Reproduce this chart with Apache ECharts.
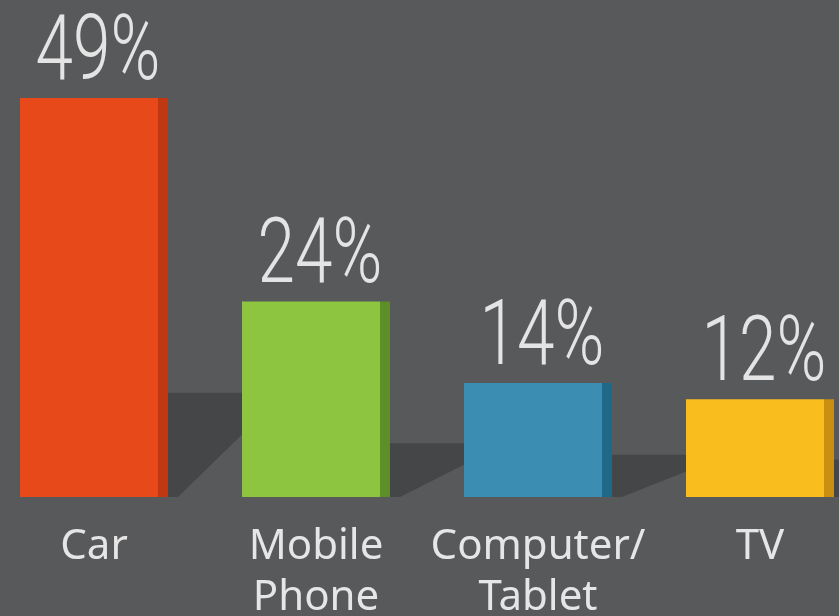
<!DOCTYPE html>
<html>
<head>
<meta charset="utf-8">
<script src="https://cdn.jsdelivr.net/npm/echarts@6/dist/echarts.min.js"></script>
<style>
  html, body { margin: 0; padding: 0; background: #58595b; }
  #chart { width: 839px; height: 616px; }
</style>
</head>
<body>
<div id="chart"></div>
<script>
// categories and shares
const categories = ['Car', 'Mobile\nPhone', 'Computer/\nTablet', 'TV'];
const shares = [49, 24, 14, 12];
// depth of the dark floor shadow behind each bar (in % units)
const shadowDepth = [12.8, 6.6, 5.2, 4.6];
const faceColors = ['#e8491a', '#8dc540', '#3b8db1', '#fabd1e'];
const edgeColors = ['#bf3812', '#5e8e27', '#1f6887', '#c98e12'];

const BAR_W = 148;

const chart = echarts.init(document.getElementById('chart'));

const option = {
  backgroundColor: '#58595b',
  animation: false,
  grid: { left: -17, right: -32, top: 98, bottom: 119, outerBoundsMode: 'none' },
  xAxis: {
    type: 'category',
    data: categories,
    axisLine: { show: false },
    axisTick: { show: false },
    axisLabel: {
      interval: 0,
      margin: 25,
      color: '#e6e6e6',
      fontFamily: 'Noto Sans',
      fontSize: 42,
      lineHeight: 51
    }
  },
  yAxis: {
    type: 'value',
    min: 0,
    max: 49,
    show: false,
    splitLine: { show: false }
  },
  series: [
    {
      // floor shadows
      type: 'custom',
      z: 1,
      data: shadowDepth.map((d, i) => [i, d]),
      renderItem: function (params, api) {
        const top = api.coord([api.value(0), api.value(1)]);
        const base = api.coord([api.value(0), 0]);
        const band = api.size([1, 0])[0];
        const xr = top[0] + BAR_W / 2;
        const gap = band - BAR_W;
        const h = base[1] - top[1];
        return {
          type: 'polygon',
          shape: {
            points: [
              [xr, top[1]],
              [xr + gap, top[1]],
              [xr + gap, top[1] + h * 0.4],
              [xr + 10, base[1]],
              [xr, base[1]]
            ]
          },
          style: { fill: '#454648' }
        };
      }
    },
    {
      type: 'bar',
      z: 2,
      barWidth: BAR_W,
      data: shares.map((v, i) => ({
        value: v,
        itemStyle: {
          color: new echarts.graphic.LinearGradient(0, 0, 1, 0, [
            { offset: 0, color: faceColors[i] },
            { offset: 0.93, color: faceColors[i] },
            { offset: 0.93, color: edgeColors[i] },
            { offset: 1, color: edgeColors[i] }
          ])
        }
      }))
    },
    {
      // percentage labels, drawn narrow to match the condensed type
      type: 'custom',
      z: 3,
      data: shares.map((v, i) => [i, v]),
      renderItem: function (params, api) {
        const p = api.coord([api.value(0), api.value(1)]);
        return {
          type: 'text',
          x: p[0] + 4,
          y: p[1] + 3,
          scaleX: 0.75,
          style: {
            text: api.value(1) + '%',
            fontFamily: 'Roboto',
            fontWeight: 300,
            fontSize: 90,
            fill: '#e4e4e4',
            align: 'center',
            verticalAlign: 'bottom'
          }
        };
      }
    }
  ]
};

chart.setOption(option);
</script>
</body>
</html>
